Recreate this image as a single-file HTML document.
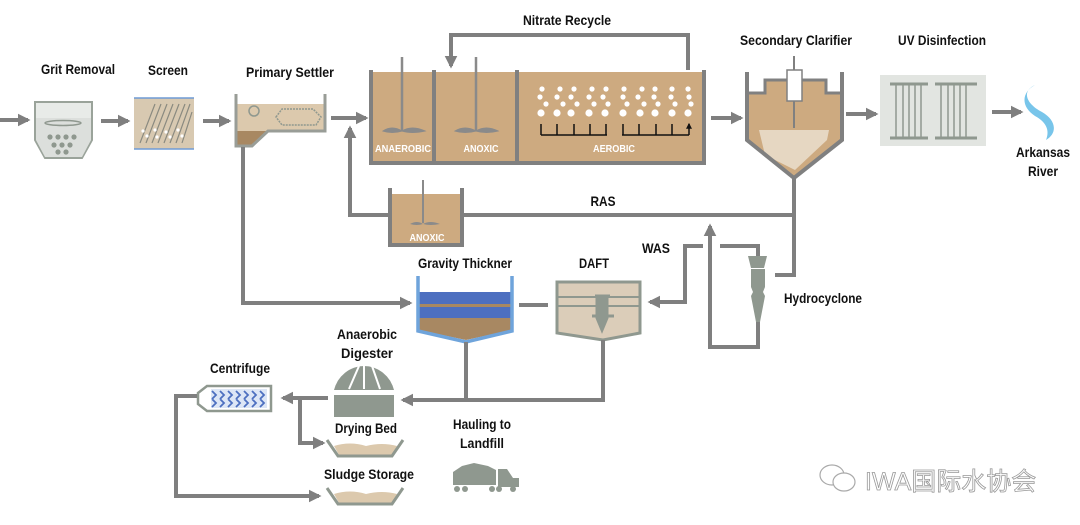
<!DOCTYPE html>
<html><head><meta charset="utf-8"><style>
html,body{margin:0;padding:0;background:#fff;width:1080px;height:525px;overflow:hidden}
svg{display:block}
.t{font-family:"Liberation Sans",sans-serif;font-weight:bold;font-size:14px;fill:#111;text-anchor:middle}
.w{font-family:"Liberation Sans",sans-serif;font-weight:bold;font-size:10.5px;fill:#fff;text-anchor:middle}
.l{stroke:#7f7f7f;stroke-width:4;fill:none}
</style></head><body>
<svg width="1080" height="525" viewBox="0 0 1080 525">
<defs>
<marker id="a" viewBox="0 0 10 10" refX="8" refY="5" markerWidth="3.2" markerHeight="3.2" orient="auto"><path d="M0,0L10,5L0,10z" fill="#7f7f7f"/></marker>
<marker id="k" viewBox="0 0 10 10" refX="8" refY="5" markerWidth="4" markerHeight="4" orient="auto"><path d="M0,0L10,5L0,10z" fill="#111"/></marker>
</defs>

<!-- top labels -->
<text class="t" x="78" y="74" textLength="74" lengthAdjust="spacingAndGlyphs">Grit Removal</text>
<text class="t" x="168" y="75" textLength="40" lengthAdjust="spacingAndGlyphs">Screen</text>
<text class="t" x="290" y="77" textLength="88" lengthAdjust="spacingAndGlyphs">Primary Settler</text>
<text class="t" x="567" y="25" textLength="88" lengthAdjust="spacingAndGlyphs">Nitrate Recycle</text>
<text class="t" x="796" y="45" textLength="112" lengthAdjust="spacingAndGlyphs">Secondary Clarifier</text>
<text class="t" x="942" y="45" textLength="88" lengthAdjust="spacingAndGlyphs">UV Disinfection</text>
<text class="t" x="1043" y="157" textLength="54" lengthAdjust="spacingAndGlyphs">Arkansas</text>
<text class="t" x="1043" y="176" textLength="30" lengthAdjust="spacingAndGlyphs">River</text>

<!-- main arrows -->
<path class="l" d="M0,120H28" marker-end="url(#a)"/>
<path class="l" d="M101,121H128" marker-end="url(#a)"/>
<path class="l" d="M203,121H229" marker-end="url(#a)"/>
<path class="l" d="M331,118H366" marker-end="url(#a)"/>
<path class="l" d="M711,118H741" marker-end="url(#a)"/>
<path class="l" d="M846,114H876" marker-end="url(#a)"/>
<path class="l" d="M992,112H1021" marker-end="url(#a)"/>

<!-- grit removal -->
<path d="M35,102H92V140L82,158H45L35,140Z" fill="#e8ebe8" stroke="#9aa39a" stroke-width="2"/>
<rect x="36" y="118" width="55" height="22" fill="#dcdfdc"/>
<path d="M36,140L45,157H82L91,140Z" fill="#dcdfdc"/>
<ellipse cx="63" cy="123" rx="18" ry="2.5" fill="none" stroke="#8f988f" stroke-width="1.5"/>
<g fill="#8f988f"><circle cx="50" cy="137" r="2.6"/><circle cx="58" cy="137" r="2.6"/><circle cx="66" cy="137" r="2.6"/><circle cx="74" cy="137" r="2.6"/><circle cx="54" cy="145" r="2.6"/><circle cx="62" cy="145" r="2.6"/><circle cx="70" cy="145" r="2.6"/><circle cx="58" cy="152" r="2.6"/><circle cx="66" cy="152" r="2.6"/></g>

<!-- screen -->
<rect x="134" y="98" width="60" height="51" fill="#d8c9b1"/>
<path d="M134,98H194M134,149H194" stroke="#6f9bd6" stroke-width="1.6"/>
<g stroke="#8a8a80" stroke-width="1.2"><path d="M140,143L155,104M146,143L161,104M152,143L167,104M158,143L173,104M164,143L179,104M170,143L185,104M176,143L190,104M182,143L192,112"/></g>
<g fill="#fff"><circle cx="143" cy="131" r="1.6"/><circle cx="147" cy="136" r="1.6"/><circle cx="155" cy="130" r="1.6"/><circle cx="157" cy="137" r="1.6"/><circle cx="166" cy="132" r="1.6"/><circle cx="170" cy="137" r="1.6"/><circle cx="178" cy="130" r="1.6"/><circle cx="182" cy="136" r="1.6"/></g>

<!-- primary settler -->
<rect x="236" y="104" width="89" height="27" fill="#dcc9ad"/>
<path d="M236,131H268L252,146H236Z" fill="#a88862"/>
<path d="M236,94V146H252L268,131H325V94" fill="none" stroke="#999d97" stroke-width="3"/>
<circle cx="254" cy="111" r="5" fill="none" stroke="#8f988f" stroke-width="1.5"/>
<path d="M276,117L282,109H313L321,117L316,125H282Z" fill="none" stroke="#8f988f" stroke-width="1.5" stroke-dasharray="2,1"/>

<!-- bioreactor -->
<rect x="370" y="72" width="335" height="90" fill="#cdaa80"/>
<path class="l" d="M371,70V163H704V70M434,70V163M517,70V163" style="stroke:#808080"/>
<g stroke="#8a8a8a" stroke-width="2.5" fill="#8a8a8a">
<path d="M402,57V131"/><path d="M383,131Q392,125 402,131Q412,125 425,131Q412,134 402,131Q392,134 383,131Z" stroke-width="1"/>
<path d="M476,57V131"/><path d="M455,131Q465,125 476,131Q486,125 498,131Q486,134 476,131Q465,134 455,131Z" stroke-width="1"/>
</g>
<g fill="#fff">
<circle cx="542" cy="89" r="2.6"/><circle cx="560" cy="89" r="2.6"/><circle cx="574" cy="89" r="2.6"/><circle cx="592" cy="89" r="2.6"/><circle cx="606" cy="89" r="2.6"/><circle cx="624" cy="89" r="2.6"/><circle cx="642" cy="89" r="2.6"/><circle cx="655" cy="89" r="2.6"/><circle cx="672" cy="89" r="2.6"/><circle cx="688" cy="89" r="2.6"/>
<circle cx="540" cy="97" r="2.6"/><circle cx="557" cy="97" r="2.6"/><circle cx="571" cy="97" r="2.6"/><circle cx="589" cy="97" r="2.6"/><circle cx="603" cy="97" r="2.6"/><circle cx="623" cy="97" r="2.6"/><circle cx="638" cy="97" r="2.6"/><circle cx="654" cy="97" r="2.6"/><circle cx="671" cy="97" r="2.6"/><circle cx="689" cy="97" r="2.6"/>
<circle cx="546" cy="104" r="2.6"/><circle cx="563" cy="104" r="2.6"/><circle cx="577" cy="104" r="2.6"/><circle cx="594" cy="104" r="2.6"/><circle cx="608" cy="104" r="2.6"/><circle cx="627" cy="104" r="2.6"/><circle cx="644" cy="104" r="2.6"/><circle cx="658" cy="104" r="2.6"/><circle cx="675" cy="104" r="2.6"/><circle cx="691" cy="104" r="2.6"/>
<circle cx="541" cy="113" r="3.6"/><circle cx="557" cy="113" r="3.6"/><circle cx="571" cy="113" r="3.6"/><circle cx="589" cy="113" r="3.6"/><circle cx="605" cy="113" r="3.6"/><circle cx="623" cy="113" r="3.6"/><circle cx="640" cy="113" r="3.6"/><circle cx="655" cy="113" r="3.6"/><circle cx="672" cy="113" r="3.6"/><circle cx="688" cy="113" r="3.6"/>
</g>
<g stroke="#111" stroke-width="1.5" fill="none">
<path d="M541,135H607M622,135H689"/>
<path d="M541,135V124M557,135V124M574,135V124M590,135V124M606,135V124M623,135V124M639,135V124M656,135V124M672,135V124M689,135V124" marker-end="url(#k)"/>
</g>
<text class="w" x="403" y="152" textLength="56" lengthAdjust="spacingAndGlyphs">ANAEROBIC</text>
<text class="w" x="481" y="152" textLength="35" lengthAdjust="spacingAndGlyphs">ANOXIC</text>
<text class="w" x="614" y="152" textLength="42" lengthAdjust="spacingAndGlyphs">AEROBIC</text>

<!-- nitrate recycle -->
<path class="l" d="M688,70V35H451V66" marker-end="url(#a)"/>

<!-- secondary clarifier -->
<path d="M747,72V140L794,178L842,140V72" fill="#cdaa80"/>
<path d="M749,72V93H765V80H826V93H840V72Z" fill="#fff"/>
<path d="M759,130H829L827,140L795,170L765,155Z" fill="#e6d7c2"/>
<path d="M747,72V140L794,178L842,140V72" fill="none" stroke="#808080" stroke-width="4"/>
<path d="M749,93H765V80H826V93H840" fill="none" stroke="#808080" stroke-width="3"/>
<path d="M794,56V128" stroke="#808080" stroke-width="2"/>
<rect x="787" y="70" width="15" height="31" fill="#fff" stroke="#808080" stroke-width="1.5"/>

<!-- UV -->
<rect x="880" y="75" width="106" height="71" fill="#e2e5e1"/>
<g stroke="#8f988f"><path d="M890,84H928M890,138H928M935,84H977M935,138H977" stroke-width="3"/>
<path d="M896,84V138M903,84V138M909,84V138M915,84V138M921,84V138M941,84V138M948,84V138M954,84V138M960,84V138M966,84V138" stroke-width="1.5"/></g>

<!-- river -->
<path d="M1035,85C1020,92 1028,105 1042,112C1056,120 1058,133 1046,140C1050,130 1046,122 1035,116C1020,106 1022,92 1035,85Z" fill="#78c5ea"/>

<!-- RAS line and anoxic tank -->
<path class="l" d="M350,215V128" marker-end="url(#a)"/>
<path class="l" d="M348,215H388M463,215H796M794,178V275H775"/>
<rect x="390" y="194" width="72" height="51" fill="#cdaa80"/>
<path class="l" d="M390,188V245H462V188"/>
<path d="M423,180V223" stroke="#8a8a8a" stroke-width="2"/>
<path d="M410,224Q417,220 423,224Q430,220 440,224Q430,226 423,224Q417,226 410,224Z" fill="#8a8a8a"/>
<text class="w" x="427" y="241" textLength="35" lengthAdjust="spacingAndGlyphs">ANOXIC</text>
<text class="t" x="603" y="206" textLength="25" lengthAdjust="spacingAndGlyphs">RAS</text>

<!-- hydrocyclone -->
<path d="M748,256H767L764,268H751Z M751,269H765V287L763,292L765,296L760,322H756L751,296L753,292L751,287Z" fill="#8f988f"/>
<path class="l" d="M758,322V347H710V226" marker-end="url(#a)"/>
<path class="l" d="M720,246H758V256M703,246H685V302H660"/>
<path class="l" d="M662,302H650" marker-end="url(#a)"/>
<text class="t" x="784" y="303" style="text-anchor:start" textLength="78" lengthAdjust="spacingAndGlyphs">Hydrocyclone</text>
<text class="t" x="656" y="253" textLength="28" lengthAdjust="spacingAndGlyphs">WAS</text>

<!-- DAFT -->
<path d="M557,282H640V333L603,340L557,333Z" fill="#dbcdb9" stroke="#8f988f" stroke-width="3"/>
<path d="M557,297H640M557,306H640" stroke="#8f988f" stroke-width="2"/>
<path d="M595,296H610M597,296V318L602,330L607,318V296M592,316H614" stroke="#8f988f" stroke-width="3" fill="#8f988f"/>
<text class="t" x="594" y="268" textLength="30" lengthAdjust="spacingAndGlyphs">DAFT</text>
<path class="l" d="M519,305H548"/>

<!-- gravity thickener -->
<path d="M418,292H512V330L466,340L418,330Z" fill="#a88862"/>
<rect x="419" y="292" width="92" height="12" fill="#4d6fc0"/>
<rect x="419" y="307" width="92" height="11" fill="#4d6fc0"/>
<path d="M418,276V331L466,342L512,331V276" fill="none" stroke="#6fa4db" stroke-width="3.5"/>
<text class="t" x="465" y="268" textLength="94" lengthAdjust="spacingAndGlyphs">Gravity Thickner</text>
<path class="l" d="M243,147V303H410" marker-end="url(#a)"/>
<path class="l" d="M466,342V400M603,340V400H403" marker-end="url(#a)"/>

<!-- digester -->
<path d="M334,390A31,32 0 0 1 394,390Z" fill="#8f988f"/>
<path d="M349,389L359,366M380,389L372,366M364,364V389" stroke="#fff" stroke-width="2"/>
<rect x="334" y="395" width="60" height="22" fill="#8f988f"/>
<text class="t" x="367" y="339" textLength="60" lengthAdjust="spacingAndGlyphs">Anaerobic</text>
<text class="t" x="367" y="358" textLength="52" lengthAdjust="spacingAndGlyphs">Digester</text>
<path class="l" d="M328,398H283" marker-end="url(#a)"/>

<!-- centrifuge -->
<path d="M207,386H271V411H207L198,404V393Z" fill="#fff" stroke="#8f988f" stroke-width="2.5"/>
<rect x="211" y="389" width="56" height="19" fill="#dde6f6"/>
<path d="M212,391l4,4l-4,4M220,391l4,4l-4,4M228,391l4,4l-4,4M236,391l4,4l-4,4M244,391l4,4l-4,4M252,391l4,4l-4,4M260,391l4,4l-4,4M212,399l4,4l-4,4M220,399l4,4l-4,4M228,399l4,4l-4,4M236,399l4,4l-4,4M244,399l4,4l-4,4M252,399l4,4l-4,4M260,399l4,4l-4,4" stroke="#4d6fc0" stroke-width="1.8" fill="none"/>
<text class="t" x="240" y="373" textLength="60" lengthAdjust="spacingAndGlyphs">Centrifuge</text>
<path class="l" d="M197,396H176V496H319" marker-end="url(#a)"/>
<path class="l" d="M300,399V443H323" marker-end="url(#a)"/>

<!-- drying bed -->
<text class="t" x="366" y="433" textLength="62" lengthAdjust="spacingAndGlyphs">Drying Bed</text>
<path d="M334,446Q350,441 366,446Q382,442 397,446L392,455H339Z" fill="#dcc9ad"/>
<path d="M327,440L338,456H392L403,440" fill="none" stroke="#8f988f" stroke-width="3"/>
<text class="t" x="369" y="479" textLength="90" lengthAdjust="spacingAndGlyphs">Sludge Storage</text>
<path d="M334,494Q350,489 366,494Q382,490 397,494L392,503H339Z" fill="#dcc9ad"/>
<path d="M327,488L338,504H392L403,488" fill="none" stroke="#8f988f" stroke-width="3"/>

<!-- hauling -->
<text class="t" x="482" y="429" textLength="58" lengthAdjust="spacingAndGlyphs">Hauling to</text>
<text class="t" x="482" y="448" textLength="44" lengthAdjust="spacingAndGlyphs">Landfill</text>
<g fill="#8f988f">
<path d="M453,472L462,466L474,463L488,466L496,470V485H453Z"/>
<path d="M498,469H507L513,478H519V487H498Z"/>
<circle cx="457" cy="489" r="3"/><circle cx="465" cy="489" r="3"/><circle cx="492" cy="489" r="3"/><circle cx="499" cy="489" r="3"/><circle cx="513" cy="489" r="3"/>
</g>

<!-- watermark -->
<g fill="#fff" stroke="#aaa" stroke-width="1.2">
<ellipse cx="832" cy="475" rx="12" ry="10"/><ellipse cx="844" cy="482" rx="11" ry="9"/>
</g>
<text x="865" y="490" style="font-family:'Liberation Sans','Noto Sans CJK SC',sans-serif;font-size:25px;fill:#fff;stroke:#999;stroke-width:0.8">IWA国际水协会</text>
</svg>
</body></html>
